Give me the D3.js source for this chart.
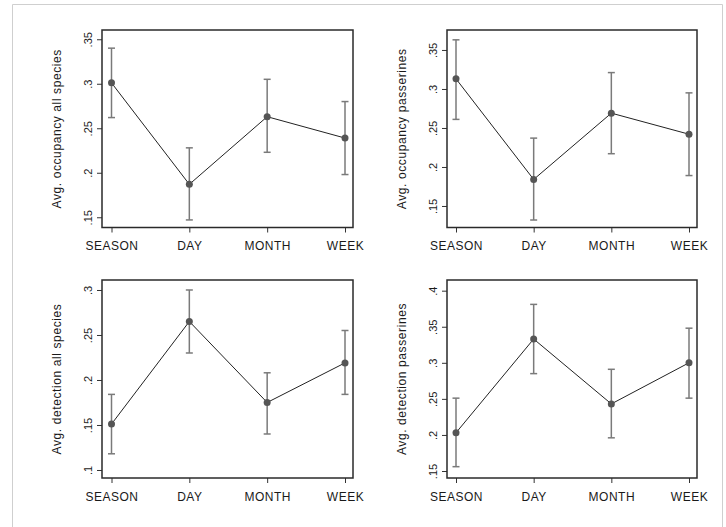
<!DOCTYPE html>
<html>
<head>
<meta charset="utf-8">
<script src="https://cdn.jsdelivr.net/npm/d3@7"></script>
<style>
  body { margin: 0; background: #fff; }
  svg { display: block; font-family: "Liberation Sans", Arial, sans-serif; }
</style>
</head>
<body>
<div id="chart"></div>
<script>
// categories on the x axis (same for all four panels)
const categories = ["SEASON", "DAY", "MONTH", "WEEK"];

// occupancy, all species
const occAllMean = [0.301, 0.187, 0.263, 0.239];
const occAllLow = [0.262, 0.147, 0.223, 0.198];
const occAllHigh = [0.340, 0.228, 0.305, 0.280];

// occupancy, passerines
const occPassMean = [0.313, 0.184, 0.269, 0.242];
const occPassLow = [0.261, 0.132, 0.217, 0.189];
const occPassHigh = [0.363, 0.237, 0.321, 0.295];

// detection, all species
const detAllMean = [0.151, 0.265, 0.175, 0.219];
const detAllLow = [0.118, 0.230, 0.140, 0.184];
const detAllHigh = [0.184, 0.300, 0.208, 0.255];

// detection, passerines
const detPassMean = [0.203, 0.333, 0.243, 0.300];
const detPassLow = [0.156, 0.285, 0.196, 0.251];
const detPassHigh = [0.251, 0.381, 0.291, 0.348];

// y tick values per panel
const ticksOccAll = [0.15, 0.2, 0.25, 0.3, 0.35];
const ticksOccPass = [0.15, 0.2, 0.25, 0.3, 0.35];
const ticksDetAll = [0.1, 0.15, 0.2, 0.25, 0.3];
const ticksDetPass = [0.15, 0.2, 0.25, 0.3, 0.35, 0.4];

const width = 726,
  height = 527;

const svg = d3
  .select("#chart")
  .append("svg")
  .attr("width", width)
  .attr("height", height);

/* light grey outer border of the figure */
svg
  .append("path")
  .attr("d", "M12.5,527 V4.5 H722.5 V527")
  .attr("fill", "none")
  .attr("stroke", "#cfcfcf")
  .attr("stroke-width", 1);

const fmt = (v) => String(+v.toFixed(2)).replace(/^0/, "");

const panels = [
  {
    title: "Avg. occupancy all species",
    mean: occAllMean, low: occAllLow, high: occAllHigh, ticks: ticksOccAll,
    x0: 102, x1: 353, y0: 30, y1: 227.5, domain: [0.1385, 0.3604],
    cat: [111.5, 345],
  },
  {
    title: "Avg. occupancy passerines",
    mean: occPassMean, low: occPassLow, high: occPassHigh, ticks: ticksOccPass,
    x0: 447, x1: 697, y0: 30, y1: 227.5, domain: [0.1224, 0.3756],
    cat: [456, 689],
  },
  {
    title: "Avg. detection all species",
    mean: detAllMean, low: detAllLow, high: detAllHigh, ticks: ticksDetAll,
    x0: 102, x1: 353, y0: 280, y1: 478, domain: [0.0911, 0.3111],
    cat: [111.5, 345],
  },
  {
    title: "Avg. detection passerines",
    mean: detPassMean, low: detPassLow, high: detPassHigh, ticks: ticksDetPass,
    x0: 447, x1: 697, y0: 280, y1: 478, domain: [0.1403, 0.4148],
    cat: [456, 689],
  },
];

const drawPanel = (p) => {
  const g = svg.append("g");

  const xScale = d3.scalePoint().domain(categories).range(p.cat);
  const yScale = d3.scaleLinear().domain(p.domain).range([p.y1, p.y0]);

  const rows = categories.map((c, i) => ({
    cat: c,
    mean: p.mean[i],
    low: p.low[i],
    high: p.high[i],
  }));

  // y axis with rotated tick labels
  const yAxis = d3
    .axisLeft(yScale)
    .tickValues(p.ticks)
    .tickSize(5)
    .tickSizeOuter(0)
    .tickFormat(fmt);

  const yg = g.append("g").attr("transform", `translate(${p.x0},0)`).call(yAxis);
  yg.select(".domain").remove();
  yg.selectAll(".tick line").attr("stroke", "#333").attr("stroke-width", 1);
  yg.selectAll(".tick text")
    .attr("x", 0)
    .attr("dy", "0.35em")
    .attr("transform", "translate(-14,0) rotate(-90)")
    .attr("text-anchor", "middle")
    .attr("fill", "#1a1a1a")
    .style("font-size", "11px")
    .style("font-family", "Liberation Sans, Arial, sans-serif");

  // x axis
  const xAxis = d3.axisBottom(xScale).tickSize(5).tickSizeOuter(0);
  const xg = g.append("g").attr("transform", `translate(0,${p.y1})`).call(xAxis);
  xg.select(".domain").remove();
  xg.selectAll(".tick line").attr("stroke", "#333").attr("stroke-width", 1);
  xg.selectAll(".tick text")
    .attr("y", 0)
    .attr("dy", "22.5")
    .attr("fill", "#1a1a1a")
    .style("font-size", "12px")
    .style("letter-spacing", "0.5px")
    .style("font-family", "Liberation Sans, Arial, sans-serif");

  // y title
  g.append("text")
    .attr("transform", `translate(${p.x0 - 45},${(p.y0 + p.y1) / 2}) rotate(-90)`)
    .attr("dy", "0.35em")
    .attr("text-anchor", "middle")
    .attr("fill", "#1a1a1a")
    .style("font-size", "12px")
    .style("letter-spacing", "0.6px")
    .text(p.title);

  // error bars
  const bars = g.append("g").attr("stroke", "#7a7a7a").attr("stroke-width", 1.5);
  bars
    .selectAll("line.v")
    .data(rows)
    .join("line")
    .attr("class", "v")
    .attr("x1", (d) => xScale(d.cat))
    .attr("x2", (d) => xScale(d.cat))
    .attr("y1", (d) => yScale(d.low))
    .attr("y2", (d) => yScale(d.high));
  ["low", "high"].forEach((k) => {
    bars
      .selectAll("line." + k)
      .data(rows)
      .join("line")
      .attr("class", k)
      .attr("x1", (d) => xScale(d.cat) - 3.5)
      .attr("x2", (d) => xScale(d.cat) + 3.5)
      .attr("y1", (d) => yScale(d[k]))
      .attr("y2", (d) => yScale(d[k]));
  });

  // connecting line
  g.append("path")
    .datum(rows)
    .attr("fill", "none")
    .attr("stroke", "#222")
    .attr("stroke-width", 1)
    .attr(
      "d",
      d3
        .line()
        .x((d) => xScale(d.cat))
        .y((d) => yScale(d.mean))
    );

  // markers
  g.append("g")
    .selectAll("circle")
    .data(rows)
    .join("circle")
    .attr("cx", (d) => xScale(d.cat))
    .attr("cy", (d) => yScale(d.mean))
    .attr("r", 3.5)
    .attr("fill", "#555");

  // frame
  g.append("rect")
    .attr("x", p.x0)
    .attr("y", p.y0)
    .attr("width", p.x1 - p.x0)
    .attr("height", p.y1 - p.y0)
    .attr("fill", "none")
    .attr("stroke", "#2a2a2a")
    .attr("stroke-width", 1.5);
};

panels.forEach(drawPanel);
</script>
</body>
</html>
